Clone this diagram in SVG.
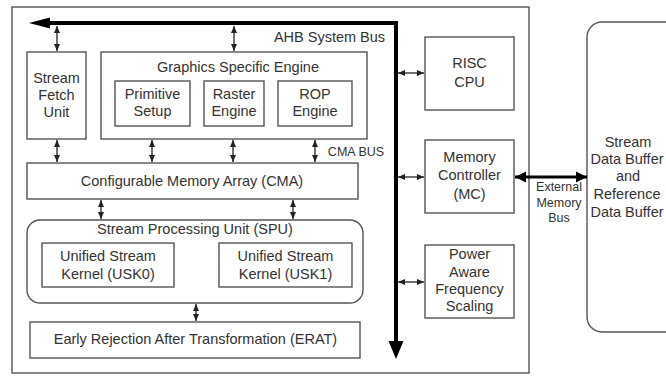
<svg xmlns="http://www.w3.org/2000/svg" width="666" height="376" viewBox="0 0 666 376">
<defs>
<marker id="ah" markerUnits="userSpaceOnUse" markerWidth="8" markerHeight="8" viewBox="0 0 8 8" refX="7" refY="4" orient="auto-start-reverse">
<path d="M0,1 L7,4 L0,7 Z" fill="#222"/>
</marker>
<marker id="ahb" markerUnits="userSpaceOnUse" markerWidth="12" markerHeight="12" viewBox="0 0 12 12" refX="11" refY="6" orient="auto-start-reverse">
<path d="M0,0.5 L11,6 L0,11.5 Z" fill="#000"/>
</marker>
<style>
.box{fill:#fff;stroke:#555;stroke-width:1.4}
.t{font-family:"Liberation Sans",Arial,sans-serif;font-size:14.5px;fill:#333;text-anchor:middle}
.s{font-family:"Liberation Sans",Arial,sans-serif;font-size:12.5px;fill:#333;text-anchor:middle}
.a{stroke:#222;stroke-width:1.3;fill:none;marker-start:url(#ah);marker-end:url(#ah)}
</style>
</defs>
<g id="chip"><rect class="box" x="12" y="7" width="517" height="366"/></g>
<g id="sfu"><rect class="box" x="27" y="52" width="59" height="87"/>
<text class="t" x="56.5" y="83">Stream</text><text class="t" x="56.5" y="100">Fetch</text><text class="t" x="56.5" y="117">Unit</text></g>
<g id="gse"><rect class="box" x="101" y="52" width="266" height="87"/>
<text class="t" x="238" y="72">Graphics Specific Engine</text></g>
<g id="prim"><rect class="box" x="115" y="81" width="75" height="45"/>
<text class="t" x="152.5" y="99">Primitive</text><text class="t" x="152.5" y="116">Setup</text></g>
<g id="raster"><rect class="box" x="204" y="81" width="60" height="45"/>
<text class="t" x="234" y="99">Raster</text><text class="t" x="234" y="116">Engine</text></g>
<g id="rop"><rect class="box" x="278" y="81" width="74" height="45"/>
<text class="t" x="315" y="99">ROP</text><text class="t" x="315" y="116">Engine</text></g>
<g id="cma"><rect class="box" x="27" y="163" width="331" height="36"/>
<text class="t" x="192" y="186">Configurable Memory Array (CMA)</text></g>
<g id="spu"><rect class="box" x="27" y="220" width="336" height="83" rx="13"/>
<text class="t" x="195" y="234">Stream Processing Unit (SPU)</text></g>
<g id="usk0"><rect class="box" x="42" y="243" width="132" height="44"/>
<text class="t" x="108" y="261">Unified Stream</text><text class="t" x="108" y="279">Kernel (USK0)</text></g>
<g id="usk1"><rect class="box" x="219" y="243" width="133" height="44"/>
<text class="t" x="285.5" y="261">Unified Stream</text><text class="t" x="285.5" y="279">Kernel (USK1)</text></g>
<g id="erat"><rect class="box" x="30" y="322" width="330" height="36"/>
<text class="t" x="195.5" y="344">Early Rejection After Transformation (ERAT)</text></g>
<g id="risc"><rect class="box" x="425" y="37" width="89" height="73"/>
<text class="t" x="469.5" y="68">RISC</text><text class="t" x="469.5" y="87">CPU</text></g>
<g id="mc"><rect class="box" x="425" y="140" width="89" height="73"/>
<text class="t" x="469.5" y="162">Memory</text><text class="t" x="469.5" y="180">Controller</text><text class="t" x="469.5" y="199">(MC)</text></g>
<g id="pafs"><rect class="box" x="425" y="245" width="89" height="73"/>
<text class="t" x="469.5" y="259">Power</text><text class="t" x="469.5" y="277">Aware</text><text class="t" x="469.5" y="294">Frequency</text><text class="t" x="469.5" y="311">Scaling</text></g>
<g id="buffer"><rect class="box" x="587" y="22" width="120" height="310" rx="15"/>
<text class="t" x="628" y="147">Stream</text><text class="t" x="627" y="164">Data Buffer</text><text class="t" x="628" y="181">and</text><text class="t" x="627" y="199">Reference</text><text class="t" x="627" y="217">Data Buffer</text></g>
<g id="connectors">
<path d="M48 23 H396 V343" fill="none" stroke="#000" stroke-width="4"/>
<polygon points="29,23 50,17.5 50,28.5" fill="#000"/>
<polygon points="396,359 388.5,341 403.5,341" fill="#000"/>
<text class="t" x="329.5" y="42">AHB System Bus</text>
<line class="a" x1="57" y1="26" x2="57" y2="51"/>
<line class="a" x1="234" y1="26" x2="234" y2="51"/>
<line class="a" x1="57" y1="140" x2="57" y2="162"/>
<line class="a" x1="152" y1="140" x2="152" y2="162"/>
<line class="a" x1="233" y1="140" x2="233" y2="162"/>
<line class="a" x1="315" y1="140" x2="315" y2="162"/>
<text class="s" x="356" y="155.5">CMA BUS</text>
<line class="a" x1="101" y1="200" x2="101" y2="219"/>
<line class="a" x1="293" y1="200" x2="293" y2="219"/>
<line class="a" x1="196" y1="304" x2="196" y2="321"/>
<line class="a" x1="398" y1="73" x2="424" y2="73"/>
<line class="a" x1="398" y1="177" x2="424" y2="177"/>
<line class="a" x1="398" y1="282" x2="424" y2="282"/>
<line x1="515" y1="177" x2="587" y2="177" stroke="#000" stroke-width="3" marker-start="url(#ahb)" marker-end="url(#ahb)"/>
<text class="s" x="559" y="191">External</text><text class="s" x="559" y="207">Memory</text><text class="s" x="559" y="222">Bus</text>
</g>
</svg>
